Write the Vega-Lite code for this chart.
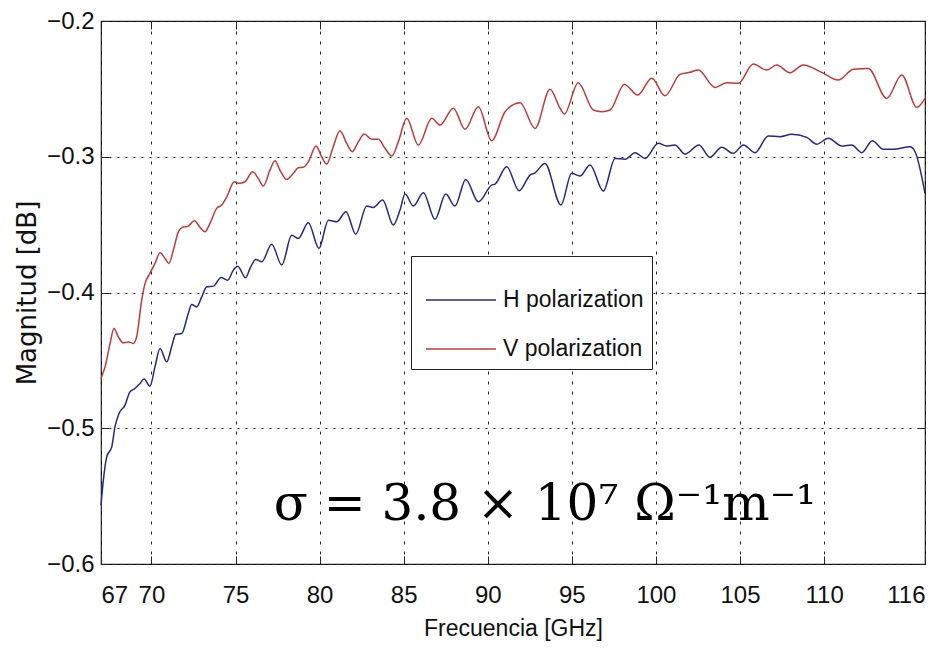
{
  "$schema": "https://vega.github.io/schema/vega-lite/v6.json",
  "width": 824,
  "height": 543,
  "autosize": {"type": "none"},
  "padding": {"left": 101, "top": 21, "right": 22, "bottom": 93},
  "background": "white",
  "config": {
    "view": {"stroke": "#222", "strokeWidth": 1.2},
    "axis": {
      "labelFont": "Liberation Sans",
      "labelFontSize": 24,
      "labelColor": "#111",
      "titleFont": "Liberation Sans",
      "titleFontSize": 23,
      "titleFontWeight": "normal",
      "titleColor": "#111",
      "domain": false,
      "ticks": true,
      "tickSize": -8,
      "tickColor": "#222",
      "tickWidth": 1,
      "grid": true,
      "gridColor": "#000",
      "gridOpacity": 0.85,
      "gridWidth": 1
    }
  },
  "resolve": {"axis": {"x": "independent", "y": "independent"}},
  "layer": [
    {
      "data": {"values": [
        {"f":67.00,"m":-0.5567,"s":"H polarization"},{"f":67.14,"m":-0.5383,"s":"H polarization"},{"f":67.34,"m":-0.5211,"s":"H polarization"},{"f":67.64,"m":-0.5137,"s":"H polarization"},{"f":67.83,"m":-0.4990,"s":"H polarization"},{"f":68.07,"m":-0.4891,"s":"H polarization"},{"f":68.43,"m":-0.4830,"s":"H polarization"},{"f":68.72,"m":-0.4732,"s":"H polarization"},{"f":69.02,"m":-0.4707,"s":"H polarization"},{"f":69.32,"m":-0.4670,"s":"H polarization"},{"f":69.56,"m":-0.4638,"s":"H polarization"},{"f":69.91,"m":-0.4690,"s":"H polarization"},{"f":70.21,"m":-0.4548,"s":"H polarization"},{"f":70.51,"m":-0.4412,"s":"H polarization"},{"f":70.91,"m":-0.4511,"s":"H polarization"},{"f":71.20,"m":-0.4400,"s":"H polarization"},{"f":71.44,"m":-0.4309,"s":"H polarization"},{"f":71.80,"m":-0.4302,"s":"H polarization"},{"f":72.19,"m":-0.4154,"s":"H polarization"},{"f":72.39,"m":-0.4088,"s":"H polarization"},{"f":72.69,"m":-0.4106,"s":"H polarization"},{"f":72.99,"m":-0.4032,"s":"H polarization"},{"f":73.29,"m":-0.3958,"s":"H polarization"},{"f":73.68,"m":-0.3953,"s":"H polarization"},{"f":74.14,"m":-0.3889,"s":"H polarization"},{"f":74.53,"m":-0.3909,"s":"H polarization"},{"f":74.87,"m":-0.3835,"s":"H polarization"},{"f":75.13,"m":-0.3806,"s":"H polarization"},{"f":75.60,"m":-0.3892,"s":"H polarization"},{"f":75.86,"m":-0.3823,"s":"H polarization"},{"f":76.20,"m":-0.3756,"s":"H polarization"},{"f":76.56,"m":-0.3774,"s":"H polarization"},{"f":77.15,"m":-0.3644,"s":"H polarization"},{"f":77.75,"m":-0.3798,"s":"H polarization"},{"f":78.34,"m":-0.3579,"s":"H polarization"},{"f":78.73,"m":-0.3602,"s":"H polarization"},{"f":79.33,"m":-0.3486,"s":"H polarization"},{"f":79.96,"m":-0.3675,"s":"H polarization"},{"f":80.52,"m":-0.3467,"s":"H polarization"},{"f":81.02,"m":-0.3479,"s":"H polarization"},{"f":81.57,"m":-0.3405,"s":"H polarization"},{"f":82.15,"m":-0.3570,"s":"H polarization"},{"f":82.80,"m":-0.3363,"s":"H polarization"},{"f":83.19,"m":-0.3373,"s":"H polarization"},{"f":83.75,"m":-0.3319,"s":"H polarization"},{"f":84.38,"m":-0.3503,"s":"H polarization"},{"f":84.78,"m":-0.3393,"s":"H polarization"},{"f":85.08,"m":-0.3275,"s":"H polarization"},{"f":85.57,"m":-0.3363,"s":"H polarization"},{"f":86.17,"m":-0.3265,"s":"H polarization"},{"f":86.86,"m":-0.3461,"s":"H polarization"},{"f":87.50,"m":-0.3275,"s":"H polarization"},{"f":88.05,"m":-0.3363,"s":"H polarization"},{"f":88.69,"m":-0.3167,"s":"H polarization"},{"f":89.44,"m":-0.3332,"s":"H polarization"},{"f":90.23,"m":-0.3209,"s":"H polarization"},{"f":90.43,"m":-0.3201,"s":"H polarization"},{"f":91.13,"m":-0.3074,"s":"H polarization"},{"f":91.86,"m":-0.3251,"s":"H polarization"},{"f":92.51,"m":-0.3135,"s":"H polarization"},{"f":92.81,"m":-0.3118,"s":"H polarization"},{"f":93.40,"m":-0.3049,"s":"H polarization"},{"f":94.35,"m":-0.3356,"s":"H polarization"},{"f":94.99,"m":-0.3122,"s":"H polarization"},{"f":95.48,"m":-0.3142,"s":"H polarization"},{"f":96.08,"m":-0.3061,"s":"H polarization"},{"f":96.87,"m":-0.3253,"s":"H polarization"},{"f":97.57,"m":-0.3012,"s":"H polarization"},{"f":98.16,"m":-0.3019,"s":"H polarization"},{"f":98.76,"m":-0.2970,"s":"H polarization"},{"f":99.35,"m":-0.3012,"s":"H polarization"},{"f":100.14,"m":-0.2901,"s":"H polarization"},{"f":100.64,"m":-0.2921,"s":"H polarization"},{"f":101.13,"m":-0.2913,"s":"H polarization"},{"f":101.73,"m":-0.2980,"s":"H polarization"},{"f":102.56,"m":-0.2913,"s":"H polarization"},{"f":103.21,"m":-0.3004,"s":"H polarization"},{"f":103.91,"m":-0.2930,"s":"H polarization"},{"f":104.60,"m":-0.2975,"s":"H polarization"},{"f":105.20,"m":-0.2913,"s":"H polarization"},{"f":105.89,"m":-0.2970,"s":"H polarization"},{"f":106.68,"m":-0.2847,"s":"H polarization"},{"f":107.38,"m":-0.2852,"s":"H polarization"},{"f":108.07,"m":-0.2835,"s":"H polarization"},{"f":108.97,"m":-0.2857,"s":"H polarization"},{"f":109.56,"m":-0.2908,"s":"H polarization"},{"f":110.25,"m":-0.2864,"s":"H polarization"},{"f":111.05,"m":-0.2921,"s":"H polarization"},{"f":111.64,"m":-0.2913,"s":"H polarization"},{"f":112.24,"m":-0.2970,"s":"H polarization"},{"f":112.87,"m":-0.2882,"s":"H polarization"},{"f":113.52,"m":-0.2945,"s":"H polarization"},{"f":114.12,"m":-0.2945,"s":"H polarization"},{"f":115.11,"m":-0.2926,"s":"H polarization"},{"f":115.41,"m":-0.2963,"s":"H polarization"},{"f":116.00,"m":-0.3269,"s":"H polarization"},
        {"f":67.00,"m":-0.4633,"s":"V polarization"},{"f":67.24,"m":-0.4548,"s":"V polarization"},{"f":67.54,"m":-0.4375,"s":"V polarization"},{"f":67.77,"m":-0.4265,"s":"V polarization"},{"f":68.03,"m":-0.4327,"s":"V polarization"},{"f":68.33,"m":-0.4371,"s":"V polarization"},{"f":68.62,"m":-0.4364,"s":"V polarization"},{"f":68.92,"m":-0.4375,"s":"V polarization"},{"f":69.12,"m":-0.4327,"s":"V polarization"},{"f":69.42,"m":-0.4056,"s":"V polarization"},{"f":69.62,"m":-0.3933,"s":"V polarization"},{"f":69.91,"m":-0.3859,"s":"V polarization"},{"f":70.21,"m":-0.3786,"s":"V polarization"},{"f":70.51,"m":-0.3708,"s":"V polarization"},{"f":70.81,"m":-0.3749,"s":"V polarization"},{"f":71.04,"m":-0.3786,"s":"V polarization"},{"f":71.30,"m":-0.3688,"s":"V polarization"},{"f":71.60,"m":-0.3553,"s":"V polarization"},{"f":71.83,"m":-0.3520,"s":"V polarization"},{"f":72.19,"m":-0.3511,"s":"V polarization"},{"f":72.55,"m":-0.3472,"s":"V polarization"},{"f":72.89,"m":-0.3520,"s":"V polarization"},{"f":73.18,"m":-0.3553,"s":"V polarization"},{"f":73.48,"m":-0.3491,"s":"V polarization"},{"f":73.88,"m":-0.3380,"s":"V polarization"},{"f":74.18,"m":-0.3356,"s":"V polarization"},{"f":74.48,"m":-0.3295,"s":"V polarization"},{"f":74.93,"m":-0.3184,"s":"V polarization"},{"f":75.21,"m":-0.3196,"s":"V polarization"},{"f":75.56,"m":-0.3184,"s":"V polarization"},{"f":76.02,"m":-0.3111,"s":"V polarization"},{"f":76.35,"m":-0.3159,"s":"V polarization"},{"f":76.65,"m":-0.3216,"s":"V polarization"},{"f":77.05,"m":-0.3098,"s":"V polarization"},{"f":77.35,"m":-0.3030,"s":"V polarization"},{"f":77.64,"m":-0.3098,"s":"V polarization"},{"f":78.04,"m":-0.3167,"s":"V polarization"},{"f":78.44,"m":-0.3122,"s":"V polarization"},{"f":78.73,"m":-0.3081,"s":"V polarization"},{"f":79.03,"m":-0.3078,"s":"V polarization"},{"f":79.33,"m":-0.3037,"s":"V polarization"},{"f":79.79,"m":-0.2921,"s":"V polarization"},{"f":80.12,"m":-0.3000,"s":"V polarization"},{"f":80.42,"m":-0.3054,"s":"V polarization"},{"f":80.81,"m":-0.2926,"s":"V polarization"},{"f":81.21,"m":-0.2809,"s":"V polarization"},{"f":81.61,"m":-0.2901,"s":"V polarization"},{"f":81.94,"m":-0.2963,"s":"V polarization"},{"f":82.30,"m":-0.2890,"s":"V polarization"},{"f":82.66,"m":-0.2833,"s":"V polarization"},{"f":83.10,"m":-0.2872,"s":"V polarization"},{"f":83.49,"m":-0.2872,"s":"V polarization"},{"f":83.89,"m":-0.2938,"s":"V polarization"},{"f":84.29,"m":-0.2995,"s":"V polarization"},{"f":84.68,"m":-0.2890,"s":"V polarization"},{"f":85.18,"m":-0.2717,"s":"V polarization"},{"f":85.87,"m":-0.2914,"s":"V polarization"},{"f":86.67,"m":-0.2717,"s":"V polarization"},{"f":87.16,"m":-0.2766,"s":"V polarization"},{"f":87.95,"m":-0.2643,"s":"V polarization"},{"f":88.65,"m":-0.2798,"s":"V polarization"},{"f":89.44,"m":-0.2632,"s":"V polarization"},{"f":90.23,"m":-0.2882,"s":"V polarization"},{"f":91.03,"m":-0.2668,"s":"V polarization"},{"f":91.92,"m":-0.2602,"s":"V polarization"},{"f":92.81,"m":-0.2791,"s":"V polarization"},{"f":93.70,"m":-0.2503,"s":"V polarization"},{"f":94.30,"m":-0.2643,"s":"V polarization"},{"f":94.55,"m":-0.2685,"s":"V polarization"},{"f":95.38,"m":-0.2455,"s":"V polarization"},{"f":96.28,"m":-0.2656,"s":"V polarization"},{"f":96.78,"m":-0.2668,"s":"V polarization"},{"f":97.27,"m":-0.2656,"s":"V polarization"},{"f":98.12,"m":-0.2467,"s":"V polarization"},{"f":98.92,"m":-0.2545,"s":"V polarization"},{"f":99.75,"m":-0.2422,"s":"V polarization"},{"f":100.54,"m":-0.2551,"s":"V polarization"},{"f":101.43,"m":-0.2393,"s":"V polarization"},{"f":102.03,"m":-0.2378,"s":"V polarization"},{"f":102.52,"m":-0.2361,"s":"V polarization"},{"f":103.51,"m":-0.2489,"s":"V polarization"},{"f":104.21,"m":-0.2455,"s":"V polarization"},{"f":104.90,"m":-0.2459,"s":"V polarization"},{"f":105.79,"m":-0.2317,"s":"V polarization"},{"f":106.59,"m":-0.2361,"s":"V polarization"},{"f":107.18,"m":-0.2324,"s":"V polarization"},{"f":107.97,"m":-0.2381,"s":"V polarization"},{"f":108.76,"m":-0.2324,"s":"V polarization"},{"f":109.86,"m":-0.2378,"s":"V polarization"},{"f":110.84,"m":-0.2435,"s":"V polarization"},{"f":111.74,"m":-0.2356,"s":"V polarization"},{"f":112.63,"m":-0.2349,"s":"V polarization"},{"f":113.72,"m":-0.2570,"s":"V polarization"},{"f":114.62,"m":-0.2398,"s":"V polarization"},{"f":115.51,"m":-0.2636,"s":"V polarization"},{"f":116.00,"m":-0.2570,"s":"V polarization"}
      ]},
      "mark": {"type": "line", "strokeWidth": 1.5, "interpolate": "monotone"},
      "encoding": {
        "x": {
          "field": "f", "type": "quantitative",
          "scale": {"domain": [67, 116], "nice": false, "zero": false},
          "axis": {
            "orient": "bottom",
            "values": [67, 70, 75, 80, 85, 90, 95, 100, 105, 110, 116],
            "title": "Frecuencia [GHz]",
            "labelPadding": 27,
            "titlePadding": 10,
            "gridDash": [3, 7]
          }
        },
        "y": {
          "field": "m", "type": "quantitative",
          "scale": {"domain": [-0.6, -0.2], "nice": false, "zero": false},
          "axis": {
            "orient": "left",
            "values": [-0.6, -0.5, -0.4, -0.3, -0.2],
            "format": ".1f",
            "title": "Magnitud [dB]",
            "titleFont": "DejaVu Sans",
            "titleFontSize": 26,
            "labelPadding": 15,
            "titlePadding": 6,
            "gridDash": [2, 6]
          }
        },
        "color": {
          "field": "s", "type": "nominal",
          "scale": {"domain": ["H polarization", "V polarization"], "range": ["#26268c", "#c43838"]},
          "legend": {
            "title": null,
            "orient": "none",
            "legendX": 310,
            "legendY": 235,
            "direction": "vertical",
            "symbolType": "stroke",
            "symbolSize": 4900,
            "symbolStrokeWidth": 1.5,
            "symbolOffset": 6,
            "labelFont": "Liberation Sans",
            "labelFontSize": 23,
            "labelColor": "#111",
            "labelLimit": 0,
            "labelOffset": 6,
            "rowPadding": 1,
            "padding": 8,
            "strokeColor": "#222",
            "fillColor": "white",
            "cornerRadius": 0
          }
        }
      }
    },
    {
      "data": {"values": [{"note": "σ = 3.8 × 10⁷ Ω⁻¹m⁻¹", "f": 93.4, "m": -0.5566}]},
      "mark": {"type": "text", "font": "DejaVu Serif", "fontSize": 50, "color": "#000", "align": "center", "baseline": "middle"},
      "encoding": {
        "x": {
          "field": "f", "type": "quantitative",
          "axis": {"orient": "top", "labels": false, "title": null, "grid": false, "values": [67, 70, 75, 80, 85, 90, 95, 100, 105, 110, 116]}
        },
        "y": {
          "field": "m", "type": "quantitative",
          "axis": {"orient": "right", "labels": false, "title": null, "grid": false, "values": [-0.6, -0.5, -0.4, -0.3, -0.2]}
        },
        "text": {"field": "note"}
      }
    }
  ]
}
